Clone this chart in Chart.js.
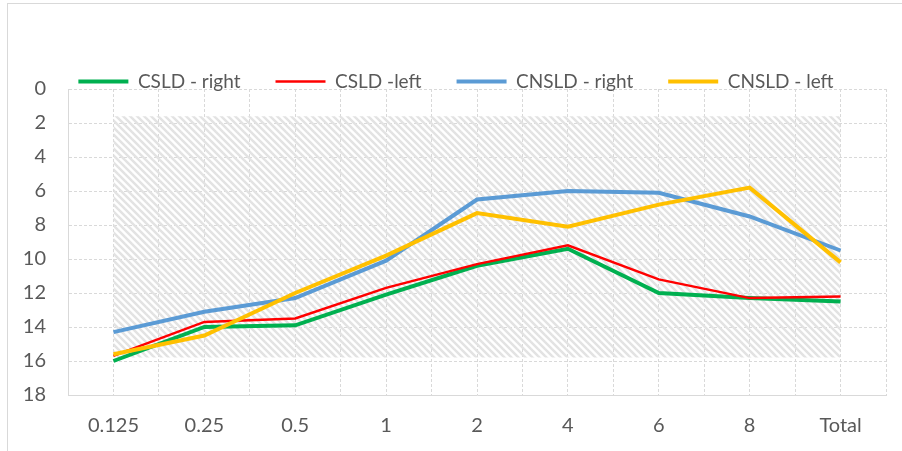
<!DOCTYPE html>
<html lang="en">
  <head>
    <meta charset="UTF-8" />
    <title>CSLD / CNSLD chart</title>
    <script src="https://cdn.jsdelivr.net/npm/chart.js"></script>
    <style>
      body {
        margin: 0;
        background: #ffffff;
        overflow: hidden;
      }
      .frame {
        position: absolute;
        left: 7px;
        top: 3px;
        width: 1000px;
        height: 1000px;
        border-left: 1px solid #d9d9d9;
        border-top: 1px solid #d9d9d9;
      }
      .chart-box {
        position: absolute;
        left: 0;
        top: 0;
        width: 902px;
        height: 451px;
      }
    </style>
  </head>
  <body>
    <div class="frame"></div>
    <div class="chart-box"><canvas id="lineChart"></canvas></div>

    <script>
      const categories = ["0.125", "0.25", "0.5", "1", "2", "4", "6", "8", "Total"];

      const csldRight = [16.0, 14.0, 13.9, 12.1, 10.4, 9.4, 12.0, 12.3, 12.5];
      const csldLeft = [15.7, 13.7, 13.5, 11.7, 10.3, 9.2, 11.2, 12.3, 12.2];
      const cnsldRight = [14.3, 13.1, 12.3, 10.1, 6.5, 6.0, 6.1, 7.5, 9.5];
      const cnsldLeft = [15.6, 14.5, 12.0, 9.8, 7.3, 8.1, 6.8, 5.8, 10.2];

      // hatched band (upper / lower edge)
      const bandTop = [1.6, 1.6, 1.6, 1.6, 1.6, 1.6, 1.6, 1.6, 1.6];
      const bandBottom = [15.8, 15.8, 15.8, 15.8, 15.8, 15.8, 15.8, 15.8, 15.8];

      const yTicks = [0, 2, 4, 6, 8, 10, 12, 14, 16, 18];

      const textColor = "#595959";
      const gridColor = "#d9d9d9";
      const fontFamily = "Lato, 'Open Sans', sans-serif";

      function makeHatch() {
        const s = 7;
        const c = document.createElement("canvas");
        c.width = s;
        c.height = s;
        const g = c.getContext("2d");
        g.strokeStyle = "#e3e3e3";
        g.lineWidth = 2.5;
        for (let k = -1; k <= 1; k++) {
          g.beginPath();
          g.moveTo(k * s - 1, -1);
          g.lineTo(k * s + s + 1, s + 1);
          g.stroke();
        }
        return g.createPattern(c, "repeat");
      }

      function lineSet(label, data, color, width, order) {
        return {
          label,
          data,
          borderColor: color,
          backgroundColor: color,
          borderWidth: width,
          pointRadius: 0,
          tension: 0,
          fill: false,
          order,
        };
      }

      // move the legend without moving the plot area
      const legendShift = {
        id: "legendShift",
        afterLayout(chart) {
          const lg = chart.legend;
          lg.top += 12;
          lg.bottom += 12;
          lg.left += 13;
          lg.right += 13;
        },
      };

      new Chart(document.getElementById("lineChart"), {
        type: "line",
        data: {
          labels: categories,
          datasets: [
            lineSet("CSLD - right", csldRight, "#00b050", 4, 4),
            lineSet("CSLD -left", csldLeft, "#ff0000", 2.5, 3),
            lineSet("CNSLD - right", cnsldRight, "#5b9bd5", 4, 2),
            lineSet("CNSLD - left", cnsldLeft, "#ffc000", 4, 1),
            {
              label: "band top",
              data: bandTop,
              borderWidth: 0,
              pointRadius: 0,
              fill: false,
              order: 10,
            },
            {
              label: "band bottom",
              data: bandBottom,
              borderWidth: 0,
              pointRadius: 0,
              backgroundColor: makeHatch(),
              fill: "-1",
              order: 10,
            },
          ],
        },
        plugins: [legendShift],
        options: {
          responsive: true,
          maintainAspectRatio: false,
          animation: false,
          layout: { padding: { top: 25, right: 16, bottom: 0, left: 0 } },
          scales: {
            x: {
              offset: true,
              grid: { color: gridColor, drawTicks: false, offset: true },
              border: { display: true, color: gridColor, dash: [3, 2] },
              ticks: {
                color: textColor,
                font: { family: fontFamily, size: 20 },
                padding: 19,
              },
              afterFit: (scale) => {
                scale.height = 56;
              },
            },
            x2: {
              type: "category",
              labels: categories,
              position: "bottom",
              offset: true,
              grid: { color: gridColor, drawTicks: false, offset: false },
              border: { display: false, dash: [3, 2] },
              ticks: { display: false },
              afterFit: (scale) => {
                scale.height = 0;
              },
            },
            y: {
              reverse: true,
              min: 0,
              max: 18,
              afterBuildTicks: (scale) => {
                scale.ticks = yTicks.map((v) => ({ value: v }));
              },
              grid: { color: gridColor, drawTicks: false },
              border: { display: true, color: gridColor, dash: [3, 2] },
              ticks: {
                color: textColor,
                font: { family: fontFamily, size: 20 },
                padding: 22,
              },
              afterFit: (scale) => {
                scale.width = 68;
              },
            },
          },
          plugins: {
            legend: {
              display: true,
              position: "top",
              labels: {
                color: textColor,
                font: { family: fontFamily, size: 19 },
                usePointStyle: true,
                pointStyle: "line",
                pointStyleWidth: 50,
                padding: 35,
                filter: (item) => item.datasetIndex < 4,
                sort: (a, b) => a.datasetIndex - b.datasetIndex,
              },
            },
            tooltip: { enabled: false },
          },
        },
      });
    </script>
  </body>
</html>
